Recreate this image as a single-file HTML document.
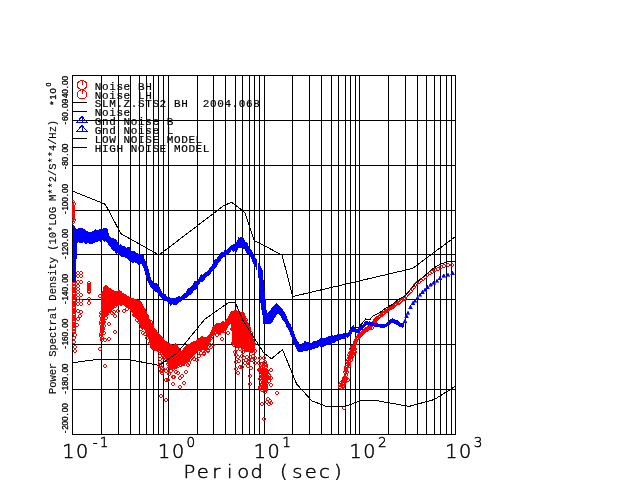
<!DOCTYPE html>
<html><head><meta charset="utf-8"><title>Power Spectral Density</title>
<style>html,body{margin:0;padding:0;background:#fff}svg{display:block}</style></head>
<body>
<svg width="640" height="480" viewBox="0 0 640 480">
<rect width="640" height="480" fill="#fff"/>
<path id="grid" d="M72.5 75.5V434.5M101.5 75.5V434.5M118.5 75.5V434.5M130.5 75.5V434.5M139.5 75.5V434.5M146.5 75.5V434.5M153.5 75.5V434.5M158.5 75.5V434.5M163.5 75.5V434.5M168.5 75.5V434.5M197.5 75.5V434.5M213.5 75.5V434.5M225.5 75.5V434.5M235.5 75.5V434.5M242.5 75.5V434.5M249.5 75.5V434.5M254.5 75.5V434.5M259.5 75.5V434.5M264.5 75.5V434.5M292.5 75.5V434.5M309.5 75.5V434.5M321.5 75.5V434.5M331.5 75.5V434.5M338.5 75.5V434.5M345.5 75.5V434.5M350.5 75.5V434.5M355.5 75.5V434.5M359.5 75.5V434.5M388.5 75.5V434.5M405.5 75.5V434.5M417.5 75.5V434.5M426.5 75.5V434.5M434.5 75.5V434.5M440.5 75.5V434.5M446.5 75.5V434.5M451.5 75.5V434.5M455.5 75.5V434.5M72 75.5H456M72 120.5H456M72 165.5H456M72 210.5H456M72 254.5H456M72 299.5H456M72 344.5H456M72 389.5H456M72 434.5H456" stroke="#000" stroke-width="1" fill="none" shape-rendering="crispEdges"/>
<clipPath id="cp"><rect x="72" y="75" width="384" height="360"/></clipPath>
<g clip-path="url(#cp)" shape-rendering="crispEdges">
<polygon points="100.5,292.6 102,291.5 103.5,289.2 105,285.8 106.5,284.6 108,286.1 109.5,288.3 111,288.6 112.5,290.3 114,290.8 115.5,292 117,291.7 118.5,290.3 120,290.6 121.5,291.3 123,293.1 124.5,293.8 126,293.8 127.5,296.1 129,296.4 130.5,297.6 132,298.7 133.5,298 135,299.1 136.5,299.9 138,300.9 139.5,300.3 141,301.6 142.5,303.9 144,307.8 145.5,310.9 147,314.1 148.5,317.2 150,320.7 151.5,322.8 153,324.6 154.5,328.4 156,331 157.5,332.1 159,333 160.5,334.8 162,336.1 163.5,338 165,340.8 166.5,340.9 168,342.8 169.5,344.3 171,344.1 172.5,344.5 174,344.9 175.5,343.2 177,344.2 178.5,347.2 180,349 181.5,351.2 183,350.9 184.5,347.8 186,345.9 187.5,344.6 189,344.1 190.5,342.7 192,341.8 193.5,341.4 195,341.4 196.5,340.5 198,338.6 199.5,337.6 201,336.4 202.5,336.6 204,336.5 205.5,337.3 207,337.1 208.5,335.1 210,333.2 211.5,330.7 213,328.7 214.5,324.8 216,324.4 217.5,323.4 219,322.8 220.5,323.1 222,321.5 223.5,321.3 225,322.1 226.5,319.2 228,317.6 229.5,314.3 231,312.1 232.5,311.2 234,310.7 235.5,310.1 237,310.5 238.5,311.9 240,311.9 241.5,312.2 243,310.9 244.5,314.1 246,318.2 247.5,322.4 249,325.8 250.5,328.7 252,334.8 253.5,339.3 255,343.6 255,352.3 253.5,352.1 252,353.1 250.5,352.8 249,352.9 247.5,351.7 246,352.4 244.5,349.7 243,348.7 241.5,348.1 240,348.6 238.5,347 237,347.4 235.5,346.1 234,345.3 232.5,344.2 231,323.5 229.5,323.8 228,327.6 226.5,327.7 225,331.1 223.5,332.1 222,332.1 220.5,335.1 219,335.5 217.5,332 216,331.6 214.5,333.9 213,334.6 211.5,338.3 210,341.4 208.5,345.1 207,349 205.5,349.6 204,350.5 202.5,349.6 201,351.3 199.5,350.4 198,350.8 196.5,351.4 195,352.6 193.5,353.6 192,356.1 190.5,356.8 189,360.1 187.5,363.1 186,363.3 184.5,365.7 183,365.9 181.5,365.6 180,365.2 178.5,366 177,367.6 175.5,367.6 174,368.2 172.5,371 171,368.7 169.5,367.6 168,365.7 166.5,361.5 165,357.3 163.5,353.5 162,353.4 160.5,350.8 159,350.8 157.5,350.8 156,349.9 154.5,351.3 153,349.9 151.5,349 150,345.1 148.5,337.5 147,334 145.5,330.8 144,329.6 142.5,328.3 141,326.4 139.5,325.2 138,321.1 136.5,318.9 135,317.8 133.5,314.5 132,312.3 130.5,308.8 129,308 127.5,306.7 126,305.3 124.5,304.3 123,304.7 121.5,304.9 120,305.2 118.5,304.4 117,305.7 115.5,306 114,308 112.5,310.5 111,309.9 109.5,312.7 108,312.4 106.5,314.7 105,316.1 103.5,316.7 102,315.6 100.5,314.6" fill="#f00"/>
<path d="M99.5 294.5h1l1 1v1l-1 1h-1l-1 -1v-1zM100.5 311.5h1l1 1v1l-1 1h-1l-1 -1v-1zM102.5 292.5h1l1 1v1l-1 1h-1l-1 -1v-1zM101.5 312.5h1l1 1v1l-1 1h-1l-1 -1v-1zM102.5 317.5h1l1 1v1l-1 1h-1l-1 -1v-1zM103.5 290.5h1l1 1v1l-1 1h-1l-1 -1v-1zM103.5 313.5h1l1 1v1l-1 1h-1l-1 -1v-1zM104.5 286.5h1l1 1v1l-1 1h-1l-1 -1v-1zM105.5 312.5h1l1 1v1l-1 1h-1l-1 -1v-1zM106.5 286.5h1l1 1v1l-1 1h-1l-1 -1v-1zM106.5 312.5h1l1 1v1l-1 1h-1l-1 -1v-1zM105.5 316.5h1l1 1v1l-1 1h-1l-1 -1v-1zM107.5 288.5h1l1 1v1l-1 1h-1l-1 -1v-1zM108.5 309.5h1l1 1v1l-1 1h-1l-1 -1v-1zM109.5 290.5h1l1 1v1l-1 1h-1l-1 -1v-1zM109.5 308.5h1l1 1v1l-1 1h-1l-1 -1v-1zM111.5 290.5h1l1 1v1l-1 1h-1l-1 -1v-1zM111.5 306.5h1l1 1v1l-1 1h-1l-1 -1v-1zM112.5 290.5h1l1 1v1l-1 1h-1l-1 -1v-1zM112.5 304.5h1l1 1v1l-1 1h-1l-1 -1v-1zM113.5 310.5h1l1 1v1l-1 1h-1l-1 -1v-1zM114.5 291.5h1l1 1v1l-1 1h-1l-1 -1v-1zM114.5 304.5h1l1 1v1l-1 1h-1l-1 -1v-1zM116.5 291.5h1l1 1v1l-1 1h-1l-1 -1v-1zM116.5 302.5h1l1 1v1l-1 1h-1l-1 -1v-1zM117.5 291.5h1l1 1v1l-1 1h-1l-1 -1v-1zM117.5 302.5h1l1 1v1l-1 1h-1l-1 -1v-1zM119.5 291.5h1l1 1v1l-1 1h-1l-1 -1v-1zM119.5 301.5h1l1 1v1l-1 1h-1l-1 -1v-1zM120.5 292.5h1l1 1v1l-1 1h-1l-1 -1v-1zM120.5 302.5h1l1 1v1l-1 1h-1l-1 -1v-1zM122.5 294.5h1l1 1v1l-1 1h-1l-1 -1v-1zM122.5 301.5h1l1 1v1l-1 1h-1l-1 -1v-1zM124.5 294.5h1l1 1v1l-1 1h-1l-1 -1v-1zM123.5 301.5h1l1 1v1l-1 1h-1l-1 -1v-1zM123.5 309.5h1l1 1v1l-1 1h-1l-1 -1v-1zM125.5 295.5h1l1 1v1l-1 1h-1l-1 -1v-1zM125.5 303.5h1l1 1v1l-1 1h-1l-1 -1v-1zM126.5 307.5h1l1 1v1l-1 1h-1l-1 -1v-1zM127.5 297.5h1l1 1v1l-1 1h-1l-1 -1v-1zM126.5 304.5h1l1 1v1l-1 1h-1l-1 -1v-1zM128.5 298.5h1l1 1v1l-1 1h-1l-1 -1v-1zM129.5 304.5h1l1 1v1l-1 1h-1l-1 -1v-1zM130.5 298.5h1l1 1v1l-1 1h-1l-1 -1v-1zM130.5 306.5h1l1 1v1l-1 1h-1l-1 -1v-1zM131.5 299.5h1l1 1v1l-1 1h-1l-1 -1v-1zM131.5 308.5h1l1 1v1l-1 1h-1l-1 -1v-1zM133.5 299.5h1l1 1v1l-1 1h-1l-1 -1v-1zM133.5 313.5h1l1 1v1l-1 1h-1l-1 -1v-1zM135.5 299.5h1l1 1v1l-1 1h-1l-1 -1v-1zM134.5 313.5h1l1 1v1l-1 1h-1l-1 -1v-1zM136.5 300.5h1l1 1v1l-1 1h-1l-1 -1v-1zM136.5 318.5h1l1 1v1l-1 1h-1l-1 -1v-1zM138.5 300.5h1l1 1v1l-1 1h-1l-1 -1v-1zM138.5 320.5h1l1 1v1l-1 1h-1l-1 -1v-1zM139.5 301.5h1l1 1v1l-1 1h-1l-1 -1v-1zM140.5 322.5h1l1 1v1l-1 1h-1l-1 -1v-1zM140.5 327.5h1l1 1v1l-1 1h-1l-1 -1v-1zM141.5 305.5h1l1 1v1l-1 1h-1l-1 -1v-1zM141.5 325.5h1l1 1v1l-1 1h-1l-1 -1v-1zM142.5 331.5h1l1 1v1l-1 1h-1l-1 -1v-1zM143.5 308.5h1l1 1v1l-1 1h-1l-1 -1v-1zM142.5 325.5h1l1 1v1l-1 1h-1l-1 -1v-1zM144.5 310.5h1l1 1v1l-1 1h-1l-1 -1v-1zM144.5 326.5h1l1 1v1l-1 1h-1l-1 -1v-1zM144.5 332.5h1l1 1v1l-1 1h-1l-1 -1v-1zM146.5 314.5h1l1 1v1l-1 1h-1l-1 -1v-1zM146.5 330.5h1l1 1v1l-1 1h-1l-1 -1v-1zM146.5 336.5h1l1 1v1l-1 1h-1l-1 -1v-1zM147.5 318.5h1l1 1v1l-1 1h-1l-1 -1v-1zM148.5 333.5h1l1 1v1l-1 1h-1l-1 -1v-1zM150.5 320.5h1l1 1v1l-1 1h-1l-1 -1v-1zM149.5 341.5h1l1 1v1l-1 1h-1l-1 -1v-1zM151.5 323.5h1l1 1v1l-1 1h-1l-1 -1v-1zM151.5 345.5h1l1 1v1l-1 1h-1l-1 -1v-1zM152.5 327.5h1l1 1v1l-1 1h-1l-1 -1v-1zM153.5 346.5h1l1 1v1l-1 1h-1l-1 -1v-1zM154.5 329.5h1l1 1v1l-1 1h-1l-1 -1v-1zM154.5 346.5h1l1 1v1l-1 1h-1l-1 -1v-1zM155.5 331.5h1l1 1v1l-1 1h-1l-1 -1v-1zM155.5 347.5h1l1 1v1l-1 1h-1l-1 -1v-1zM157.5 333.5h1l1 1v1l-1 1h-1l-1 -1v-1zM157.5 346.5h1l1 1v1l-1 1h-1l-1 -1v-1zM158.5 335.5h1l1 1v1l-1 1h-1l-1 -1v-1zM158.5 349.5h1l1 1v1l-1 1h-1l-1 -1v-1zM160.5 336.5h1l1 1v1l-1 1h-1l-1 -1v-1zM161.5 348.5h1l1 1v1l-1 1h-1l-1 -1v-1zM161.5 338.5h1l1 1v1l-1 1h-1l-1 -1v-1zM162.5 350.5h1l1 1v1l-1 1h-1l-1 -1v-1zM162.5 353.5h1l1 1v1l-1 1h-1l-1 -1v-1zM163.5 340.5h1l1 1v1l-1 1h-1l-1 -1v-1zM163.5 352.5h1l1 1v1l-1 1h-1l-1 -1v-1zM163.5 356.5h1l1 1v1l-1 1h-1l-1 -1v-1zM165.5 342.5h1l1 1v1l-1 1h-1l-1 -1v-1zM165.5 357.5h1l1 1v1l-1 1h-1l-1 -1v-1zM167.5 343.5h1l1 1v1l-1 1h-1l-1 -1v-1zM167.5 362.5h1l1 1v1l-1 1h-1l-1 -1v-1zM167.5 367.5h1l1 1v1l-1 1h-1l-1 -1v-1zM168.5 343.5h1l1 1v1l-1 1h-1l-1 -1v-1zM169.5 364.5h1l1 1v1l-1 1h-1l-1 -1v-1zM170.5 345.5h1l1 1v1l-1 1h-1l-1 -1v-1zM170.5 365.5h1l1 1v1l-1 1h-1l-1 -1v-1zM172.5 345.5h1l1 1v1l-1 1h-1l-1 -1v-1zM172.5 367.5h1l1 1v1l-1 1h-1l-1 -1v-1zM173.5 345.5h1l1 1v1l-1 1h-1l-1 -1v-1zM173.5 364.5h1l1 1v1l-1 1h-1l-1 -1v-1zM173.5 375.5h1l1 1v1l-1 1h-1l-1 -1v-1zM175.5 344.5h1l1 1v1l-1 1h-1l-1 -1v-1zM175.5 365.5h1l1 1v1l-1 1h-1l-1 -1v-1zM176.5 346.5h1l1 1v1l-1 1h-1l-1 -1v-1zM177.5 364.5h1l1 1v1l-1 1h-1l-1 -1v-1zM178.5 348.5h1l1 1v1l-1 1h-1l-1 -1v-1zM178.5 362.5h1l1 1v1l-1 1h-1l-1 -1v-1zM177.5 371.5h1l1 1v1l-1 1h-1l-1 -1v-1zM180.5 351.5h1l1 1v1l-1 1h-1l-1 -1v-1zM180.5 363.5h1l1 1v1l-1 1h-1l-1 -1v-1zM181.5 351.5h1l1 1v1l-1 1h-1l-1 -1v-1zM181.5 362.5h1l1 1v1l-1 1h-1l-1 -1v-1zM183.5 349.5h1l1 1v1l-1 1h-1l-1 -1v-1zM182.5 361.5h1l1 1v1l-1 1h-1l-1 -1v-1zM184.5 347.5h1l1 1v1l-1 1h-1l-1 -1v-1zM184.5 360.5h1l1 1v1l-1 1h-1l-1 -1v-1zM186.5 345.5h1l1 1v1l-1 1h-1l-1 -1v-1zM186.5 359.5h1l1 1v1l-1 1h-1l-1 -1v-1zM187.5 344.5h1l1 1v1l-1 1h-1l-1 -1v-1zM187.5 358.5h1l1 1v1l-1 1h-1l-1 -1v-1zM188.5 361.5h1l1 1v1l-1 1h-1l-1 -1v-1zM189.5 344.5h1l1 1v1l-1 1h-1l-1 -1v-1zM190.5 354.5h1l1 1v1l-1 1h-1l-1 -1v-1zM190.5 344.5h1l1 1v1l-1 1h-1l-1 -1v-1zM190.5 353.5h1l1 1v1l-1 1h-1l-1 -1v-1zM191.5 356.5h1l1 1v1l-1 1h-1l-1 -1v-1zM193.5 342.5h1l1 1v1l-1 1h-1l-1 -1v-1zM193.5 351.5h1l1 1v1l-1 1h-1l-1 -1v-1zM194.5 342.5h1l1 1v1l-1 1h-1l-1 -1v-1zM194.5 350.5h1l1 1v1l-1 1h-1l-1 -1v-1zM193.5 357.5h1l1 1v1l-1 1h-1l-1 -1v-1zM195.5 341.5h1l1 1v1l-1 1h-1l-1 -1v-1zM195.5 348.5h1l1 1v1l-1 1h-1l-1 -1v-1zM197.5 340.5h1l1 1v1l-1 1h-1l-1 -1v-1zM197.5 347.5h1l1 1v1l-1 1h-1l-1 -1v-1zM199.5 339.5h1l1 1v1l-1 1h-1l-1 -1v-1zM198.5 347.5h1l1 1v1l-1 1h-1l-1 -1v-1zM201.5 338.5h1l1 1v1l-1 1h-1l-1 -1v-1zM200.5 347.5h1l1 1v1l-1 1h-1l-1 -1v-1zM201.5 336.5h1l1 1v1l-1 1h-1l-1 -1v-1zM202.5 346.5h1l1 1v1l-1 1h-1l-1 -1v-1zM203.5 338.5h1l1 1v1l-1 1h-1l-1 -1v-1zM204.5 347.5h1l1 1v1l-1 1h-1l-1 -1v-1zM206.5 338.5h1l1 1v1l-1 1h-1l-1 -1v-1zM205.5 346.5h1l1 1v1l-1 1h-1l-1 -1v-1zM207.5 336.5h1l1 1v1l-1 1h-1l-1 -1v-1zM207.5 342.5h1l1 1v1l-1 1h-1l-1 -1v-1zM208.5 335.5h1l1 1v1l-1 1h-1l-1 -1v-1zM208.5 339.5h1l1 1v1l-1 1h-1l-1 -1v-1zM209.5 343.5h1l1 1v1l-1 1h-1l-1 -1v-1zM210.5 333.5h1l1 1v1l-1 1h-1l-1 -1v-1zM210.5 336.5h1l1 1v1l-1 1h-1l-1 -1v-1zM212.5 329.5h1l1 1v1l-1 1h-1l-1 -1v-1zM212.5 332.5h1l1 1v1l-1 1h-1l-1 -1v-1zM213.5 326.5h1l1 1v1l-1 1h-1l-1 -1v-1zM213.5 329.5h1l1 1v1l-1 1h-1l-1 -1v-1zM215.5 325.5h1l1 1v1l-1 1h-1l-1 -1v-1zM215.5 330.5h1l1 1v1l-1 1h-1l-1 -1v-1zM216.5 323.5h1l1 1v1l-1 1h-1l-1 -1v-1zM216.5 329.5h1l1 1v1l-1 1h-1l-1 -1v-1zM216.5 333.5h1l1 1v1l-1 1h-1l-1 -1v-1zM218.5 323.5h1l1 1v1l-1 1h-1l-1 -1v-1zM218.5 330.5h1l1 1v1l-1 1h-1l-1 -1v-1zM219.5 323.5h1l1 1v1l-1 1h-1l-1 -1v-1zM219.5 330.5h1l1 1v1l-1 1h-1l-1 -1v-1zM221.5 322.5h1l1 1v1l-1 1h-1l-1 -1v-1zM221.5 329.5h1l1 1v1l-1 1h-1l-1 -1v-1zM221.5 337.5h1l1 1v1l-1 1h-1l-1 -1v-1zM222.5 322.5h1l1 1v1l-1 1h-1l-1 -1v-1zM223.5 329.5h1l1 1v1l-1 1h-1l-1 -1v-1zM225.5 321.5h1l1 1v1l-1 1h-1l-1 -1v-1zM224.5 327.5h1l1 1v1l-1 1h-1l-1 -1v-1zM226.5 319.5h1l1 1v1l-1 1h-1l-1 -1v-1zM225.5 324.5h1l1 1v1l-1 1h-1l-1 -1v-1zM228.5 317.5h1l1 1v1l-1 1h-1l-1 -1v-1zM228.5 321.5h1l1 1v1l-1 1h-1l-1 -1v-1zM227.5 331.5h1l1 1v1l-1 1h-1l-1 -1v-1zM230.5 313.5h1l1 1v1l-1 1h-1l-1 -1v-1zM229.5 319.5h1l1 1v1l-1 1h-1l-1 -1v-1zM231.5 311.5h1l1 1v1l-1 1h-1l-1 -1v-1zM231.5 327.5h1l1 1v1l-1 1h-1l-1 -1v-1zM232.5 311.5h1l1 1v1l-1 1h-1l-1 -1v-1zM232.5 341.5h1l1 1v1l-1 1h-1l-1 -1v-1zM234.5 311.5h1l1 1v1l-1 1h-1l-1 -1v-1zM233.5 343.5h1l1 1v1l-1 1h-1l-1 -1v-1zM235.5 311.5h1l1 1v1l-1 1h-1l-1 -1v-1zM236.5 342.5h1l1 1v1l-1 1h-1l-1 -1v-1zM237.5 312.5h1l1 1v1l-1 1h-1l-1 -1v-1zM237.5 344.5h1l1 1v1l-1 1h-1l-1 -1v-1zM238.5 311.5h1l1 1v1l-1 1h-1l-1 -1v-1zM239.5 344.5h1l1 1v1l-1 1h-1l-1 -1v-1zM240.5 312.5h1l1 1v1l-1 1h-1l-1 -1v-1zM240.5 344.5h1l1 1v1l-1 1h-1l-1 -1v-1zM242.5 312.5h1l1 1v1l-1 1h-1l-1 -1v-1zM242.5 345.5h1l1 1v1l-1 1h-1l-1 -1v-1zM243.5 315.5h1l1 1v1l-1 1h-1l-1 -1v-1zM243.5 347.5h1l1 1v1l-1 1h-1l-1 -1v-1zM245.5 318.5h1l1 1v1l-1 1h-1l-1 -1v-1zM246.5 347.5h1l1 1v1l-1 1h-1l-1 -1v-1zM246.5 322.5h1l1 1v1l-1 1h-1l-1 -1v-1zM247.5 348.5h1l1 1v1l-1 1h-1l-1 -1v-1zM248.5 326.5h1l1 1v1l-1 1h-1l-1 -1v-1zM248.5 348.5h1l1 1v1l-1 1h-1l-1 -1v-1zM250.5 331.5h1l1 1v1l-1 1h-1l-1 -1v-1zM250.5 348.5h1l1 1v1l-1 1h-1l-1 -1v-1zM251.5 335.5h1l1 1v1l-1 1h-1l-1 -1v-1zM251.5 348.5h1l1 1v1l-1 1h-1l-1 -1v-1zM253.5 342.5h1l1 1v1l-1 1h-1l-1 -1v-1zM254.5 349.5h1l1 1v1l-1 1h-1l-1 -1v-1zM72.5 200.5h1l1 1v1l-1 1h-1l-1 -1v-1zM73.5 202.5h1l1 1v1l-1 1h-1l-1 -1v-1zM72.5 204.5h1l1 1v1l-1 1h-1l-1 -1v-1zM72.5 205.5h1l1 1v1l-1 1h-1l-1 -1v-1zM72.5 206.5h1l1 1v1l-1 1h-1l-1 -1v-1zM72.5 208.5h1l1 1v1l-1 1h-1l-1 -1v-1zM72.5 210.5h1l1 1v1l-1 1h-1l-1 -1v-1zM72.5 211.5h1l1 1v1l-1 1h-1l-1 -1v-1zM72.5 212.5h1l1 1v1l-1 1h-1l-1 -1v-1zM72.5 214.5h1l1 1v1l-1 1h-1l-1 -1v-1zM72.5 216.5h1l1 1v1l-1 1h-1l-1 -1v-1zM72.5 217.5h1l1 1v1l-1 1h-1l-1 -1v-1zM73.5 218.5h1l1 1v1l-1 1h-1l-1 -1v-1zM72.5 220.5h1l1 1v1l-1 1h-1l-1 -1v-1zM73.5 281.5h1l1 1v1l-1 1h-1l-1 -1v-1zM73.5 282.5h1l1 1v1l-1 1h-1l-1 -1v-1zM73.5 284.5h1l1 1v1l-1 1h-1l-1 -1v-1zM73.5 285.5h1l1 1v1l-1 1h-1l-1 -1v-1zM73.5 287.5h1l1 1v1l-1 1h-1l-1 -1v-1zM73.5 288.5h1l1 1v1l-1 1h-1l-1 -1v-1zM73.5 289.5h1l1 1v1l-1 1h-1l-1 -1v-1zM73.5 291.5h1l1 1v1l-1 1h-1l-1 -1v-1zM73.5 292.5h1l1 1v1l-1 1h-1l-1 -1v-1zM73.5 294.5h1l1 1v1l-1 1h-1l-1 -1v-1zM73.5 295.5h1l1 1v1l-1 1h-1l-1 -1v-1zM73.5 296.5h1l1 1v1l-1 1h-1l-1 -1v-1zM73.5 298.5h1l1 1v1l-1 1h-1l-1 -1v-1zM73.5 299.5h1l1 1v1l-1 1h-1l-1 -1v-1zM73.5 301.5h1l1 1v1l-1 1h-1l-1 -1v-1zM73.5 302.5h1l1 1v1l-1 1h-1l-1 -1v-1zM73.5 303.5h1l1 1v1l-1 1h-1l-1 -1v-1zM73.5 305.5h1l1 1v1l-1 1h-1l-1 -1v-1zM73.5 306.5h1l1 1v1l-1 1h-1l-1 -1v-1zM73.5 308.5h1l1 1v1l-1 1h-1l-1 -1v-1zM73.5 309.5h1l1 1v1l-1 1h-1l-1 -1v-1zM73.5 310.5h1l1 1v1l-1 1h-1l-1 -1v-1zM73.5 312.5h1l1 1v1l-1 1h-1l-1 -1v-1zM73.5 313.5h1l1 1v1l-1 1h-1l-1 -1v-1zM73.5 315.5h1l1 1v1l-1 1h-1l-1 -1v-1zM73.5 316.5h1l1 1v1l-1 1h-1l-1 -1v-1zM73.5 317.5h1l1 1v1l-1 1h-1l-1 -1v-1zM73.5 319.5h1l1 1v1l-1 1h-1l-1 -1v-1zM73.5 320.5h1l1 1v1l-1 1h-1l-1 -1v-1zM73.5 322.5h1l1 1v1l-1 1h-1l-1 -1v-1zM73.5 323.5h1l1 1v1l-1 1h-1l-1 -1v-1zM73.5 324.5h1l1 1v1l-1 1h-1l-1 -1v-1zM73.5 326.5h1l1 1v1l-1 1h-1l-1 -1v-1zM73.5 327.5h1l1 1v1l-1 1h-1l-1 -1v-1zM73.5 329.5h1l1 1v1l-1 1h-1l-1 -1v-1zM73.5 330.5h1l1 1v1l-1 1h-1l-1 -1v-1zM74.5 333.5h1l1 1v1l-1 1h-1l-1 -1v-1zM73.5 336.5h1l1 1v1l-1 1h-1l-1 -1v-1zM73.5 340.5h1l1 1v1l-1 1h-1l-1 -1v-1zM74.5 345.5h1l1 1v1l-1 1h-1l-1 -1v-1zM74.5 349.5h1l1 1v1l-1 1h-1l-1 -1v-1zM77.5 271.5h1l1 1v1l-1 1h-1l-1 -1v-1zM80.5 271.5h1l1 1v1l-1 1h-1l-1 -1v-1zM77.5 274.5h1l1 1v1l-1 1h-1l-1 -1v-1zM80.5 274.5h1l1 1v1l-1 1h-1l-1 -1v-1zM77.5 280.5h1l1 1v1l-1 1h-1l-1 -1v-1zM80.5 280.5h1l1 1v1l-1 1h-1l-1 -1v-1zM77.5 284.5h1l1 1v1l-1 1h-1l-1 -1v-1zM77.5 287.5h1l1 1v1l-1 1h-1l-1 -1v-1zM77.5 290.5h1l1 1v1l-1 1h-1l-1 -1v-1zM77.5 293.5h1l1 1v1l-1 1h-1l-1 -1v-1zM80.5 293.5h1l1 1v1l-1 1h-1l-1 -1v-1zM77.5 296.5h1l1 1v1l-1 1h-1l-1 -1v-1zM77.5 299.5h1l1 1v1l-1 1h-1l-1 -1v-1zM80.5 299.5h1l1 1v1l-1 1h-1l-1 -1v-1zM77.5 302.5h1l1 1v1l-1 1h-1l-1 -1v-1zM80.5 302.5h1l1 1v1l-1 1h-1l-1 -1v-1zM80.5 310.5h1l1 1v1l-1 1h-1l-1 -1v-1zM79.5 314.5h1l1 1v1l-1 1h-1l-1 -1v-1zM77.5 309.5h1l1 1v1l-1 1h-1l-1 -1v-1zM77.5 317.5h1l1 1v1l-1 1h-1l-1 -1v-1zM76.5 323.5h1l1 1v1l-1 1h-1l-1 -1v-1zM88.5 281.5h1l1 1v1l-1 1h-1l-1 -1v-1zM88.5 283.5h1l1 1v1l-1 1h-1l-1 -1v-1zM88.5 285.5h1l1 1v1l-1 1h-1l-1 -1v-1zM88.5 287.5h1l1 1v1l-1 1h-1l-1 -1v-1zM88.5 289.5h1l1 1v1l-1 1h-1l-1 -1v-1zM88.5 290.5h1l1 1v1l-1 1h-1l-1 -1v-1zM88.5 297.5h1l1 1v1l-1 1h-1l-1 -1v-1zM88.5 301.5h1l1 1v1l-1 1h-1l-1 -1v-1zM100.5 314.5h1l1 1v1l-1 1h-1l-1 -1v-1zM103.5 314.5h1l1 1v1l-1 1h-1l-1 -1v-1zM101.5 316.5h1l1 1v1l-1 1h-1l-1 -1v-1zM101.5 318.5h1l1 1v1l-1 1h-1l-1 -1v-1zM102.5 319.5h1l1 1v1l-1 1h-1l-1 -1v-1zM100.5 320.5h1l1 1v1l-1 1h-1l-1 -1v-1zM103.5 320.5h1l1 1v1l-1 1h-1l-1 -1v-1zM100.5 322.5h1l1 1v1l-1 1h-1l-1 -1v-1zM102.5 321.5h1l1 1v1l-1 1h-1l-1 -1v-1zM101.5 324.5h1l1 1v1l-1 1h-1l-1 -1v-1zM103.5 324.5h1l1 1v1l-1 1h-1l-1 -1v-1zM101.5 326.5h1l1 1v1l-1 1h-1l-1 -1v-1zM102.5 327.5h1l1 1v1l-1 1h-1l-1 -1v-1zM101.5 328.5h1l1 1v1l-1 1h-1l-1 -1v-1zM101.5 330.5h1l1 1v1l-1 1h-1l-1 -1v-1zM100.5 332.5h1l1 1v1l-1 1h-1l-1 -1v-1zM100.5 334.5h1l1 1v1l-1 1h-1l-1 -1v-1zM101.5 336.5h1l1 1v1l-1 1h-1l-1 -1v-1zM101.5 338.5h1l1 1v1l-1 1h-1l-1 -1v-1zM104.5 364.5h1l1 1v1l-1 1h-1l-1 -1v-1zM99.5 347.5h1l1 1v1l-1 1h-1l-1 -1v-1zM108.5 322.5h1l1 1v1l-1 1h-1l-1 -1v-1zM114.5 330.5h1l1 1v1l-1 1h-1l-1 -1v-1zM108.5 337.5h1l1 1v1l-1 1h-1l-1 -1v-1zM114.5 314.5h1l1 1v1l-1 1h-1l-1 -1v-1zM103.5 331.5h1l1 1v1l-1 1h-1l-1 -1v-1zM104.5 338.5h1l1 1v1l-1 1h-1l-1 -1v-1zM111.5 311.5h1l1 1v1l-1 1h-1l-1 -1v-1zM117.5 309.5h1l1 1v1l-1 1h-1l-1 -1v-1zM161.5 369.5h1l1 1v1l-1 1h-1l-1 -1v-1zM165.5 369.5h1l1 1v1l-1 1h-1l-1 -1v-1zM170.5 369.5h1l1 1v1l-1 1h-1l-1 -1v-1zM172.5 375.5h1l1 1v1l-1 1h-1l-1 -1v-1zM179.5 376.5h1l1 1v1l-1 1h-1l-1 -1v-1zM181.5 374.5h1l1 1v1l-1 1h-1l-1 -1v-1zM185.5 370.5h1l1 1v1l-1 1h-1l-1 -1v-1zM165.5 378.5h1l1 1v1l-1 1h-1l-1 -1v-1zM167.5 378.5h1l1 1v1l-1 1h-1l-1 -1v-1zM172.5 382.5h1l1 1v1l-1 1h-1l-1 -1v-1zM179.5 385.5h1l1 1v1l-1 1h-1l-1 -1v-1zM183.5 381.5h1l1 1v1l-1 1h-1l-1 -1v-1zM196.5 358.5h1l1 1v1l-1 1h-1l-1 -1v-1zM203.5 351.5h1l1 1v1l-1 1h-1l-1 -1v-1zM207.5 349.5h1l1 1v1l-1 1h-1l-1 -1v-1zM160.5 394.5h1l1 1v1l-1 1h-1l-1 -1v-1zM165.5 398.5h1l1 1v1l-1 1h-1l-1 -1v-1zM175.5 370.5h1l1 1v1l-1 1h-1l-1 -1v-1zM168.5 372.5h1l1 1v1l-1 1h-1l-1 -1v-1zM189.5 358.5h1l1 1v1l-1 1h-1l-1 -1v-1zM192.5 355.5h1l1 1v1l-1 1h-1l-1 -1v-1zM159.5 364.5h1l1 1v1l-1 1h-1l-1 -1v-1zM162.5 367.5h1l1 1v1l-1 1h-1l-1 -1v-1zM187.5 363.5h1l1 1v1l-1 1h-1l-1 -1v-1zM198.5 354.5h1l1 1v1l-1 1h-1l-1 -1v-1zM161.5 351.5h1l1 1v1l-1 1h-1l-1 -1v-1zM159.5 354.5h1l1 1v1l-1 1h-1l-1 -1v-1zM159.5 357.5h1l1 1v1l-1 1h-1l-1 -1v-1zM159.5 360.5h1l1 1v1l-1 1h-1l-1 -1v-1zM159.5 363.5h1l1 1v1l-1 1h-1l-1 -1v-1zM161.5 366.5h1l1 1v1l-1 1h-1l-1 -1v-1zM160.5 369.5h1l1 1v1l-1 1h-1l-1 -1v-1zM161.5 371.5h1l1 1v1l-1 1h-1l-1 -1v-1zM207.5 348.5h1l1 1v1l-1 1h-1l-1 -1v-1zM203.5 352.5h1l1 1v1l-1 1h-1l-1 -1v-1zM210.5 345.5h1l1 1v1l-1 1h-1l-1 -1v-1zM205.5 347.5h1l1 1v1l-1 1h-1l-1 -1v-1zM212.5 343.5h1l1 1v1l-1 1h-1l-1 -1v-1zM200.5 351.5h1l1 1v1l-1 1h-1l-1 -1v-1zM236.5 347.5h1l1 1v1l-1 1h-1l-1 -1v-1zM239.5 347.5h1l1 1v1l-1 1h-1l-1 -1v-1zM235.5 360.5h1l1 1v1l-1 1h-1l-1 -1v-1zM238.5 359.5h1l1 1v1l-1 1h-1l-1 -1v-1zM241.5 354.5h1l1 1v1l-1 1h-1l-1 -1v-1zM235.5 367.5h1l1 1v1l-1 1h-1l-1 -1v-1zM239.5 365.5h1l1 1v1l-1 1h-1l-1 -1v-1zM241.5 365.5h1l1 1v1l-1 1h-1l-1 -1v-1zM237.5 371.5h1l1 1v1l-1 1h-1l-1 -1v-1zM247.5 364.5h1l1 1v1l-1 1h-1l-1 -1v-1zM250.5 366.5h1l1 1v1l-1 1h-1l-1 -1v-1zM254.5 361.5h1l1 1v1l-1 1h-1l-1 -1v-1zM254.5 356.5h1l1 1v1l-1 1h-1l-1 -1v-1zM249.5 374.5h1l1 1v1l-1 1h-1l-1 -1v-1zM249.5 382.5h1l1 1v1l-1 1h-1l-1 -1v-1zM235.5 353.5h1l1 1v1l-1 1h-1l-1 -1v-1zM237.5 355.5h1l1 1v1l-1 1h-1l-1 -1v-1zM243.5 356.5h1l1 1v1l-1 1h-1l-1 -1v-1zM245.5 358.5h1l1 1v1l-1 1h-1l-1 -1v-1zM248.5 359.5h1l1 1v1l-1 1h-1l-1 -1v-1zM251.5 358.5h1l1 1v1l-1 1h-1l-1 -1v-1zM246.5 355.5h1l1 1v1l-1 1h-1l-1 -1v-1zM249.5 355.5h1l1 1v1l-1 1h-1l-1 -1v-1zM252.5 354.5h1l1 1v1l-1 1h-1l-1 -1v-1zM244.5 361.5h1l1 1v1l-1 1h-1l-1 -1v-1zM247.5 360.5h1l1 1v1l-1 1h-1l-1 -1v-1zM234.5 350.5h1l1 1v1l-1 1h-1l-1 -1v-1zM242.5 350.5h1l1 1v1l-1 1h-1l-1 -1v-1zM263.5 374.5h1l1 1v1l-1 1h-1l-1 -1v-1zM265.5 371.5h1l1 1v1l-1 1h-1l-1 -1v-1zM262.5 381.5h1l1 1v1l-1 1h-1l-1 -1v-1zM265.5 378.5h1l1 1v1l-1 1h-1l-1 -1v-1zM264.5 378.5h1l1 1v1l-1 1h-1l-1 -1v-1zM264.5 368.5h1l1 1v1l-1 1h-1l-1 -1v-1zM265.5 370.5h1l1 1v1l-1 1h-1l-1 -1v-1zM264.5 379.5h1l1 1v1l-1 1h-1l-1 -1v-1zM266.5 370.5h1l1 1v1l-1 1h-1l-1 -1v-1zM265.5 379.5h1l1 1v1l-1 1h-1l-1 -1v-1zM264.5 369.5h1l1 1v1l-1 1h-1l-1 -1v-1zM263.5 382.5h1l1 1v1l-1 1h-1l-1 -1v-1zM265.5 377.5h1l1 1v1l-1 1h-1l-1 -1v-1zM265.5 374.5h1l1 1v1l-1 1h-1l-1 -1v-1zM264.5 377.5h1l1 1v1l-1 1h-1l-1 -1v-1zM263.5 368.5h1l1 1v1l-1 1h-1l-1 -1v-1zM263.5 380.5h1l1 1v1l-1 1h-1l-1 -1v-1zM263.5 372.5h1l1 1v1l-1 1h-1l-1 -1v-1zM265.5 387.5h1l1 1v1l-1 1h-1l-1 -1v-1zM263.5 373.5h1l1 1v1l-1 1h-1l-1 -1v-1zM266.5 375.5h1l1 1v1l-1 1h-1l-1 -1v-1zM268.5 373.5h1l1 1v1l-1 1h-1l-1 -1v-1zM259.5 369.5h1l1 1v1l-1 1h-1l-1 -1v-1zM264.5 360.5h1l1 1v1l-1 1h-1l-1 -1v-1zM263.5 385.5h1l1 1v1l-1 1h-1l-1 -1v-1zM261.5 374.5h1l1 1v1l-1 1h-1l-1 -1v-1zM265.5 384.5h1l1 1v1l-1 1h-1l-1 -1v-1zM263.5 361.5h1l1 1v1l-1 1h-1l-1 -1v-1zM264.5 377.5h1l1 1v1l-1 1h-1l-1 -1v-1zM261.5 366.5h1l1 1v1l-1 1h-1l-1 -1v-1zM261.5 378.5h1l1 1v1l-1 1h-1l-1 -1v-1zM262.5 368.5h1l1 1v1l-1 1h-1l-1 -1v-1zM265.5 372.5h1l1 1v1l-1 1h-1l-1 -1v-1zM260.5 366.5h1l1 1v1l-1 1h-1l-1 -1v-1zM263.5 376.5h1l1 1v1l-1 1h-1l-1 -1v-1zM265.5 369.5h1l1 1v1l-1 1h-1l-1 -1v-1zM259.5 367.5h1l1 1v1l-1 1h-1l-1 -1v-1zM268.5 376.5h1l1 1v1l-1 1h-1l-1 -1v-1zM262.5 364.5h1l1 1v1l-1 1h-1l-1 -1v-1zM265.5 385.5h1l1 1v1l-1 1h-1l-1 -1v-1zM263.5 378.5h1l1 1v1l-1 1h-1l-1 -1v-1zM264.5 381.5h1l1 1v1l-1 1h-1l-1 -1v-1zM263.5 370.5h1l1 1v1l-1 1h-1l-1 -1v-1zM261.5 382.5h1l1 1v1l-1 1h-1l-1 -1v-1zM266.5 369.5h1l1 1v1l-1 1h-1l-1 -1v-1zM264.5 376.5h1l1 1v1l-1 1h-1l-1 -1v-1zM266.5 374.5h1l1 1v1l-1 1h-1l-1 -1v-1zM265.5 380.5h1l1 1v1l-1 1h-1l-1 -1v-1zM265.5 384.5h1l1 1v1l-1 1h-1l-1 -1v-1zM266.5 381.5h1l1 1v1l-1 1h-1l-1 -1v-1zM264.5 363.5h1l1 1v1l-1 1h-1l-1 -1v-1zM264.5 378.5h1l1 1v1l-1 1h-1l-1 -1v-1zM263.5 377.5h1l1 1v1l-1 1h-1l-1 -1v-1zM263.5 375.5h1l1 1v1l-1 1h-1l-1 -1v-1zM263.5 378.5h1l1 1v1l-1 1h-1l-1 -1v-1zM261.5 375.5h1l1 1v1l-1 1h-1l-1 -1v-1zM265.5 375.5h1l1 1v1l-1 1h-1l-1 -1v-1zM266.5 376.5h1l1 1v1l-1 1h-1l-1 -1v-1zM264.5 370.5h1l1 1v1l-1 1h-1l-1 -1v-1zM264.5 375.5h1l1 1v1l-1 1h-1l-1 -1v-1zM261.5 369.5h1l1 1v1l-1 1h-1l-1 -1v-1zM263.5 367.5h1l1 1v1l-1 1h-1l-1 -1v-1zM264.5 375.5h1l1 1v1l-1 1h-1l-1 -1v-1zM265.5 376.5h1l1 1v1l-1 1h-1l-1 -1v-1zM265.5 363.5h1l1 1v1l-1 1h-1l-1 -1v-1zM263.5 380.5h1l1 1v1l-1 1h-1l-1 -1v-1zM263.5 381.5h1l1 1v1l-1 1h-1l-1 -1v-1zM263.5 376.5h1l1 1v1l-1 1h-1l-1 -1v-1zM264.5 374.5h1l1 1v1l-1 1h-1l-1 -1v-1zM265.5 383.5h1l1 1v1l-1 1h-1l-1 -1v-1zM264.5 390.5h1l1 1v1l-1 1h-1l-1 -1v-1zM263.5 369.5h1l1 1v1l-1 1h-1l-1 -1v-1zM261.5 388.5h1l1 1v1l-1 1h-1l-1 -1v-1zM259.5 385.5h1l1 1v1l-1 1h-1l-1 -1v-1zM264.5 368.5h1l1 1v1l-1 1h-1l-1 -1v-1zM265.5 365.5h1l1 1v1l-1 1h-1l-1 -1v-1zM260.5 373.5h1l1 1v1l-1 1h-1l-1 -1v-1zM264.5 384.5h1l1 1v1l-1 1h-1l-1 -1v-1zM263.5 371.5h1l1 1v1l-1 1h-1l-1 -1v-1zM264.5 376.5h1l1 1v1l-1 1h-1l-1 -1v-1zM263.5 385.5h1l1 1v1l-1 1h-1l-1 -1v-1zM264.5 376.5h1l1 1v1l-1 1h-1l-1 -1v-1zM265.5 373.5h1l1 1v1l-1 1h-1l-1 -1v-1zM265.5 368.5h1l1 1v1l-1 1h-1l-1 -1v-1zM264.5 386.5h1l1 1v1l-1 1h-1l-1 -1v-1zM259.5 356.5h1l1 1v1l-1 1h-1l-1 -1v-1zM263.5 356.5h1l1 1v1l-1 1h-1l-1 -1v-1zM258.5 361.5h1l1 1v1l-1 1h-1l-1 -1v-1zM261.5 362.5h1l1 1v1l-1 1h-1l-1 -1v-1zM270.5 368.5h1l1 1v1l-1 1h-1l-1 -1v-1zM270.5 376.5h1l1 1v1l-1 1h-1l-1 -1v-1zM270.5 383.5h1l1 1v1l-1 1h-1l-1 -1v-1zM265.5 388.5h1l1 1v1l-1 1h-1l-1 -1v-1zM259.5 386.5h1l1 1v1l-1 1h-1l-1 -1v-1zM276.5 391.5h1l1 1v1l-1 1h-1l-1 -1v-1zM267.5 397.5h1l1 1v1l-1 1h-1l-1 -1v-1zM269.5 399.5h1l1 1v1l-1 1h-1l-1 -1v-1zM266.5 400.5h1l1 1v1l-1 1h-1l-1 -1v-1zM268.5 402.5h1l1 1v1l-1 1h-1l-1 -1v-1zM270.5 401.5h1l1 1v1l-1 1h-1l-1 -1v-1zM261.5 402.5h1l1 1v1l-1 1h-1l-1 -1v-1zM263.5 417.5h1l1 1v1l-1 1h-1l-1 -1v-1zM267.5 372.5h1l1 1v1l-1 1h-1l-1 -1v-1zM268.5 379.5h1l1 1v1l-1 1h-1l-1 -1v-1zM258.5 368.5h1l1 1v1l-1 1h-1l-1 -1v-1zM259.5 377.5h1l1 1v1l-1 1h-1l-1 -1v-1zM451.5 263.5h1l1 1v1l-1 1h-1l-1 -1v-1zM447.5 263.5h1l1 1v1l-1 1h-1l-1 -1v-1zM443.5 264.5h1l1 1v1l-1 1h-1l-1 -1v-1zM440.5 265.5h1l1 1v1l-1 1h-1l-1 -1v-1zM437.5 267.5h1l1 1v1l-1 1h-1l-1 -1v-1zM434.5 268.5h1l1 1v1l-1 1h-1l-1 -1v-1zM431.5 270.5h1l1 1v1l-1 1h-1l-1 -1v-1zM429.5 271.5h1l1 1v1l-1 1h-1l-1 -1v-1zM426.5 273.5h1l1 1v1l-1 1h-1l-1 -1v-1zM424.5 275.5h1l1 1v1l-1 1h-1l-1 -1v-1zM422.5 277.5h1l1 1v1l-1 1h-1l-1 -1v-1zM420.5 278.5h1l1 1v1l-1 1h-1l-1 -1v-1zM418.5 280.5h1l1 1v1l-1 1h-1l-1 -1v-1zM416.5 281.5h1l1 1v1l-1 1h-1l-1 -1v-1zM414.5 283.5h1l1 1v1l-1 1h-1l-1 -1v-1zM413.5 285.5h1l1 1v1l-1 1h-1l-1 -1v-1zM411.5 287.5h1l1 1v1l-1 1h-1l-1 -1v-1zM410.5 289.5h1l1 1v1l-1 1h-1l-1 -1v-1zM408.5 291.5h1l1 1v1l-1 1h-1l-1 -1v-1zM407.5 292.5h1l1 1v1l-1 1h-1l-1 -1v-1zM405.5 294.5h1l1 1v1l-1 1h-1l-1 -1v-1zM404.5 296.5h1l1 1v1l-1 1h-1l-1 -1v-1zM403.5 297.5h1l1 1v1l-1 1h-1l-1 -1v-1zM401.5 298.5h1l1 1v1l-1 1h-1l-1 -1v-1zM400.5 299.5h1l1 1v1l-1 1h-1l-1 -1v-1zM399.5 300.5h1l1 1v1l-1 1h-1l-1 -1v-1zM398.5 301.5h1l1 1v1l-1 1h-1l-1 -1v-1zM396.5 301.5h1l1 1v1l-1 1h-1l-1 -1v-1zM395.5 302.5h1l1 1v1l-1 1h-1l-1 -1v-1zM394.5 302.5h1l1 1v1l-1 1h-1l-1 -1v-1zM393.5 304.5h1l1 1v1l-1 1h-1l-1 -1v-1zM392.5 305.5h1l1 1v1l-1 1h-1l-1 -1v-1zM391.5 305.5h1l1 1v1l-1 1h-1l-1 -1v-1zM390.5 306.5h1l1 1v1l-1 1h-1l-1 -1v-1zM389.5 306.5h1l1 1v1l-1 1h-1l-1 -1v-1zM388.5 307.5h1l1 1v1l-1 1h-1l-1 -1v-1zM387.5 308.5h1l1 1v1l-1 1h-1l-1 -1v-1zM387.5 308.5h1l1 1v1l-1 1h-1l-1 -1v-1zM386.5 309.5h1l1 1v1l-1 1h-1l-1 -1v-1zM385.5 309.5h1l1 1v1l-1 1h-1l-1 -1v-1zM384.5 310.5h1l1 1v1l-1 1h-1l-1 -1v-1zM383.5 311.5h1l1 1v1l-1 1h-1l-1 -1v-1zM382.5 311.5h1l1 1v1l-1 1h-1l-1 -1v-1zM382.5 312.5h1l1 1v1l-1 1h-1l-1 -1v-1zM381.5 313.5h1l1 1v1l-1 1h-1l-1 -1v-1zM380.5 313.5h1l1 1v1l-1 1h-1l-1 -1v-1zM379.5 314.5h1l1 1v1l-1 1h-1l-1 -1v-1zM379.5 314.5h1l1 1v1l-1 1h-1l-1 -1v-1zM378.5 315.5h1l1 1v1l-1 1h-1l-1 -1v-1zM377.5 316.5h1l1 1v1l-1 1h-1l-1 -1v-1zM376.5 316.5h1l1 1v1l-1 1h-1l-1 -1v-1zM376.5 317.5h1l1 1v1l-1 1h-1l-1 -1v-1zM375.5 317.5h1l1 1v1l-1 1h-1l-1 -1v-1zM374.5 318.5h1l1 1v1l-1 1h-1l-1 -1v-1zM374.5 320.5h1l1 1v1l-1 1h-1l-1 -1v-1zM373.5 320.5h1l1 1v1l-1 1h-1l-1 -1v-1zM372.5 321.5h1l1 1v1l-1 1h-1l-1 -1v-1zM372.5 321.5h1l1 1v1l-1 1h-1l-1 -1v-1zM371.5 322.5h1l1 1v1l-1 1h-1l-1 -1v-1zM371.5 323.5h1l1 1v1l-1 1h-1l-1 -1v-1zM370.5 324.5h1l1 1v1l-1 1h-1l-1 -1v-1zM369.5 325.5h1l1 1v1l-1 1h-1l-1 -1v-1zM369.5 325.5h1l1 1v1l-1 1h-1l-1 -1v-1zM368.5 326.5h1l1 1v1l-1 1h-1l-1 -1v-1zM368.5 326.5h1l1 1v1l-1 1h-1l-1 -1v-1zM367.5 326.5h1l1 1v1l-1 1h-1l-1 -1v-1zM367.5 327.5h1l1 1v1l-1 1h-1l-1 -1v-1zM366.5 328.5h1l1 1v1l-1 1h-1l-1 -1v-1zM365.5 327.5h1l1 1v1l-1 1h-1l-1 -1v-1zM365.5 328.5h1l1 1v1l-1 1h-1l-1 -1v-1zM364.5 328.5h1l1 1v1l-1 1h-1l-1 -1v-1zM364.5 329.5h1l1 1v1l-1 1h-1l-1 -1v-1zM363.5 329.5h1l1 1v1l-1 1h-1l-1 -1v-1zM363.5 329.5h1l1 1v1l-1 1h-1l-1 -1v-1zM362.5 330.5h1l1 1v1l-1 1h-1l-1 -1v-1zM362.5 331.5h1l1 1v1l-1 1h-1l-1 -1v-1zM361.5 331.5h1l1 1v1l-1 1h-1l-1 -1v-1zM361.5 332.5h1l1 1v1l-1 1h-1l-1 -1v-1zM360.5 332.5h1l1 1v1l-1 1h-1l-1 -1v-1zM360.5 332.5h1l1 1v1l-1 1h-1l-1 -1v-1zM360.5 333.5h1l1 1v1l-1 1h-1l-1 -1v-1zM359.5 333.5h1l1 1v1l-1 1h-1l-1 -1v-1zM359.5 333.5h1l1 1v1l-1 1h-1l-1 -1v-1zM358.5 333.5h1l1 1v1l-1 1h-1l-1 -1v-1zM358.5 335.5h1l1 1v1l-1 1h-1l-1 -1v-1zM357.5 336.5h1l1 1v1l-1 1h-1l-1 -1v-1zM357.5 336.5h1l1 1v1l-1 1h-1l-1 -1v-1zM356.5 336.5h1l1 1v1l-1 1h-1l-1 -1v-1zM356.5 337.5h1l1 1v1l-1 1h-1l-1 -1v-1zM356.5 337.5h1l1 1v1l-1 1h-1l-1 -1v-1zM355.5 338.5h1l1 1v1l-1 1h-1l-1 -1v-1zM355.5 339.5h1l1 1v1l-1 1h-1l-1 -1v-1zM354.5 340.5h1l1 1v1l-1 1h-1l-1 -1v-1zM354.5 341.5h1l1 1v1l-1 1h-1l-1 -1v-1zM354.5 342.5h1l1 1v1l-1 1h-1l-1 -1v-1zM353.5 344.5h1l1 1v1l-1 1h-1l-1 -1v-1zM353.5 345.5h1l1 1v1l-1 1h-1l-1 -1v-1zM352.5 345.5h1l1 1v1l-1 1h-1l-1 -1v-1zM352.5 347.5h1l1 1v1l-1 1h-1l-1 -1v-1zM352.5 347.5h1l1 1v1l-1 1h-1l-1 -1v-1zM351.5 349.5h1l1 1v1l-1 1h-1l-1 -1v-1zM351.5 349.5h1l1 1v1l-1 1h-1l-1 -1v-1zM353.5 347.5h1l1 1v1l-1 1h-1l-1 -1v-1zM351.5 351.5h1l1 1v1l-1 1h-1l-1 -1v-1zM351.5 351.5h1l1 1v1l-1 1h-1l-1 -1v-1zM350.5 351.5h1l1 1v1l-1 1h-1l-1 -1v-1zM349.5 351.5h1l1 1v1l-1 1h-1l-1 -1v-1zM350.5 353.5h1l1 1v1l-1 1h-1l-1 -1v-1zM350.5 353.5h1l1 1v1l-1 1h-1l-1 -1v-1zM352.5 353.5h1l1 1v1l-1 1h-1l-1 -1v-1zM349.5 354.5h1l1 1v1l-1 1h-1l-1 -1v-1zM350.5 351.5h1l1 1v1l-1 1h-1l-1 -1v-1zM348.5 353.5h1l1 1v1l-1 1h-1l-1 -1v-1zM351.5 355.5h1l1 1v1l-1 1h-1l-1 -1v-1zM349.5 355.5h1l1 1v1l-1 1h-1l-1 -1v-1zM350.5 355.5h1l1 1v1l-1 1h-1l-1 -1v-1zM349.5 356.5h1l1 1v1l-1 1h-1l-1 -1v-1zM350.5 358.5h1l1 1v1l-1 1h-1l-1 -1v-1zM347.5 358.5h1l1 1v1l-1 1h-1l-1 -1v-1zM348.5 356.5h1l1 1v1l-1 1h-1l-1 -1v-1zM348.5 359.5h1l1 1v1l-1 1h-1l-1 -1v-1zM346.5 360.5h1l1 1v1l-1 1h-1l-1 -1v-1zM348.5 360.5h1l1 1v1l-1 1h-1l-1 -1v-1zM347.5 361.5h1l1 1v1l-1 1h-1l-1 -1v-1zM348.5 362.5h1l1 1v1l-1 1h-1l-1 -1v-1zM346.5 365.5h1l1 1v1l-1 1h-1l-1 -1v-1zM348.5 364.5h1l1 1v1l-1 1h-1l-1 -1v-1zM345.5 365.5h1l1 1v1l-1 1h-1l-1 -1v-1zM344.5 370.5h1l1 1v1l-1 1h-1l-1 -1v-1zM345.5 367.5h1l1 1v1l-1 1h-1l-1 -1v-1zM346.5 370.5h1l1 1v1l-1 1h-1l-1 -1v-1zM345.5 369.5h1l1 1v1l-1 1h-1l-1 -1v-1zM345.5 373.5h1l1 1v1l-1 1h-1l-1 -1v-1zM345.5 373.5h1l1 1v1l-1 1h-1l-1 -1v-1zM345.5 376.5h1l1 1v1l-1 1h-1l-1 -1v-1zM345.5 377.5h1l1 1v1l-1 1h-1l-1 -1v-1zM347.5 378.5h1l1 1v1l-1 1h-1l-1 -1v-1zM345.5 376.5h1l1 1v1l-1 1h-1l-1 -1v-1zM344.5 375.5h1l1 1v1l-1 1h-1l-1 -1v-1zM344.5 378.5h1l1 1v1l-1 1h-1l-1 -1v-1zM344.5 378.5h1l1 1v1l-1 1h-1l-1 -1v-1zM343.5 376.5h1l1 1v1l-1 1h-1l-1 -1v-1zM343.5 378.5h1l1 1v1l-1 1h-1l-1 -1v-1zM344.5 377.5h1l1 1v1l-1 1h-1l-1 -1v-1zM342.5 379.5h1l1 1v1l-1 1h-1l-1 -1v-1zM342.5 379.5h1l1 1v1l-1 1h-1l-1 -1v-1zM342.5 382.5h1l1 1v1l-1 1h-1l-1 -1v-1zM340.5 381.5h1l1 1v1l-1 1h-1l-1 -1v-1zM344.5 380.5h1l1 1v1l-1 1h-1l-1 -1v-1zM342.5 382.5h1l1 1v1l-1 1h-1l-1 -1v-1zM344.5 380.5h1l1 1v1l-1 1h-1l-1 -1v-1zM342.5 381.5h1l1 1v1l-1 1h-1l-1 -1v-1zM341.5 383.5h1l1 1v1l-1 1h-1l-1 -1v-1zM342.5 381.5h1l1 1v1l-1 1h-1l-1 -1v-1zM342.5 384.5h1l1 1v1l-1 1h-1l-1 -1v-1zM339.5 383.5h1l1 1v1l-1 1h-1l-1 -1v-1zM343.5 382.5h1l1 1v1l-1 1h-1l-1 -1v-1zM341.5 383.5h1l1 1v1l-1 1h-1l-1 -1v-1zM342.5 384.5h1l1 1v1l-1 1h-1l-1 -1v-1zM339.5 385.5h1l1 1v1l-1 1h-1l-1 -1v-1zM342.5 385.5h1l1 1v1l-1 1h-1l-1 -1v-1zM343.5 406.5h1l1 1v1l-1 1h-1l-1 -1v-1zM351.5 348.5h1l1 1v1l-1 1h-1l-1 -1v-1zM353.5 347.5h1l1 1v1l-1 1h-1l-1 -1v-1zM351.5 350.5h1l1 1v1l-1 1h-1l-1 -1v-1zM353.5 349.5h1l1 1v1l-1 1h-1l-1 -1v-1zM352.5 346.5h1l1 1v1l-1 1h-1l-1 -1v-1zM350.5 347.5h1l1 1v1l-1 1h-1l-1 -1v-1zM354.5 347.5h1l1 1v1l-1 1h-1l-1 -1v-1zM351.5 345.5h1l1 1v1l-1 1h-1l-1 -1v-1zM353.5 345.5h1l1 1v1l-1 1h-1l-1 -1v-1zM351.5 350.5h1l1 1v1l-1 1h-1l-1 -1v-1zM354.5 350.5h1l1 1v1l-1 1h-1l-1 -1v-1zM352.5 351.5h1l1 1v1l-1 1h-1l-1 -1v-1zM370.5 324.5h1l1 1v1l-1 1h-1l-1 -1v-1zM369.5 326.5h1l1 1v1l-1 1h-1l-1 -1v-1zM371.5 323.5h1l1 1v1l-1 1h-1l-1 -1v-1zM371.5 326.5h1l1 1v1l-1 1h-1l-1 -1v-1zM369.5 324.5h1l1 1v1l-1 1h-1l-1 -1v-1z" stroke="#f00" stroke-width="1" fill="none"/>
<polygon points="77,229.6 78.7,227.8 80.4,227.7 82.1,227.9 83.8,228.8 85.5,230.2 87.2,231.2 88.9,232.7 90.6,231.5 92.3,231.6 94,230.6 95.7,229.2 97.4,230.3 99.1,229.7 100.8,228.5 102.5,228.5 104.2,227.9 105.9,227.7 107.6,229 109.3,236 111,237.2 112.7,238.4 114.4,238.6 116.1,239.8 117.8,242.7 119.5,244.7 121.2,244.2 122.9,246.4 124.6,246.4 126.3,247.7 128,247.2 129.7,247.4 131.4,250.5 133.1,250.7 134.8,251.6 136.5,252.7 138.2,253.8 139.9,253.6 141.6,255 143.3,254.7 145,260.5 146.7,263.8 148.4,268.3 150.1,275.9 151.8,280.7 153.5,281.6 155.2,283.4 156.9,282.6 158.6,286 160.3,288.7 162,292.6 163.7,293.6 165.4,293.8 167.1,296.7 168.8,296.8 170.5,298 172.2,297.7 173.9,297.8 175.6,297.7 177.3,297 179,296.1 180.7,296.6 182.4,294.6 184.1,293.7 185.8,292.9 187.5,288.8 189.2,288.2 190.9,286.3 192.6,284.7 194.3,281.1 196,281.1 197.7,279.6 199.4,277.6 201.1,274.2 202.8,274.6 204.5,273 206.2,271.6 207.9,271.2 209.6,268.2 211.3,266.6 213,262.9 214.7,260.2 216.4,258.7 218.1,256.4 219.8,254.3 221.5,252.1 223.2,252.1 224.9,249.8 226.6,249.6 228.3,248.7 230,246 231.7,245.4 233.4,244.1 235.1,243.4 236.8,242.1 238.5,237.4 240.2,237.6 241.9,236.5 243.6,237.9 245.3,241.6 247,242 248.7,246 250.4,248.6 252.1,251.4 253.8,254.7 255.5,257.7 257.2,260.7 257.2,272.8 255.5,266.8 253.8,264.4 252.1,260.7 250.4,257.2 248.7,253.7 247,253.6 245.3,250.1 243.6,248.6 241.9,247.3 240.2,248.4 238.5,248.4 236.8,251.7 235.1,250.7 233.4,251.7 231.7,249.6 230,253.2 228.3,253.9 226.6,254.8 224.9,256.2 223.2,257.8 221.5,258.9 219.8,262 218.1,263.8 216.4,266.9 214.7,268.9 213,270.4 211.3,272.3 209.6,275.1 207.9,275.8 206.2,277.4 204.5,279.9 202.8,281.9 201.1,281.4 199.4,283.9 197.7,286.5 196,290.2 194.3,290.2 192.6,292.6 190.9,294.8 189.2,295.3 187.5,297 185.8,298.2 184.1,298.7 182.4,300.6 180.7,301.4 179,302.8 177.3,304.7 175.6,304.6 173.9,305.4 172.2,304.3 170.5,305.8 168.8,303.1 167.1,301.5 165.4,301.4 163.7,301.2 162,297.9 160.3,297 158.6,294.8 156.9,292.3 155.2,291.6 153.5,290.8 151.8,287.9 150.1,286.7 148.4,282.7 146.7,278.8 145,273.1 143.3,266.8 141.6,264.4 139.9,264.3 138.2,264.8 136.5,263.2 134.8,262.1 133.1,262.7 131.4,262.2 129.7,260.7 128,259.6 126.3,257.9 124.6,257.1 122.9,257.4 121.2,257.1 119.5,253.8 117.8,252.7 116.1,254 114.4,251.2 112.7,250.3 111,248.2 109.3,245.5 107.6,243.4 105.9,240.9 104.2,242.1 102.5,240.1 100.8,241.8 99.1,240.6 97.4,242.6 95.7,241.9 94,242.9 92.3,244.3 90.6,244.1 88.9,243.2 87.2,243.2 85.5,244.2 83.8,242.1 82.1,243.5 80.4,243.2 78.7,242.3 77,243.4" fill="#00f"/>
<polygon points="72.5,224 74,225 75.5,228 77,229 77.5,250 76.6,258 75.8,264 75.8,282 72.5,282" fill="#00f"/>
<polygon points="258,262 262.5,270 263.5,280 264.5,290 265.6,300 266.5,310 267,314 271,309 276,303 280,307 280,315 278,313 275.5,317 270.6,324.4 263,324.4 262.5,315 261.5,310 260,300 259.5,290 258.75,280 258,274" fill="#00f"/>
<polygon points="276,303.4 277.2,304.9 278.5,305.1 279.8,306.2 281,307.4 282.2,308.9 283.5,310.8 284.8,312.8 286,315.3 287.2,317.8 288.5,321.1 289.8,323.3 291,325.3 292.2,328.7 293.5,331.4 294.8,335 296,338.1 297.2,340.4 298.5,341.9 299.8,344.8 301,344.8 302.2,343.2 303.5,342.6 304.8,341.1 306,341.5 307.2,341.6 308.5,342.2 309.8,342.5 311,343.4 312.2,342.6 313.5,341.3 314.8,341.2 316,341.1 317.2,340.5 318.5,339.7 319.8,338.8 321,338.2 322.2,338.5 323.5,338.4 324.8,337.8 326,337.4 327.2,337 328.5,336 329.8,336 331,335.2 332.2,334.8 333.5,336 334.8,334.8 336,335.3 337.2,334.2 338.5,334.2 339.8,333.9 341,334.6 342.2,333.8 343.5,332.9 344.8,333.5 346,333.1 347.2,332.9 348.5,332.4 349.8,329.9 351,327.7 352.2,326.1 353.5,325.2 354.8,327.2 356,328.6 357.2,329.4 358.5,327.3 359.8,326.6 361,325.4 362.2,325.1 363.5,323.7 364.8,320.9 366,320.3 367.2,321.2 368.5,321.7 369.8,320.7 371,322.2 372.2,321.6 373.5,322.9 374.8,323.3 376,322.3 377.2,323.2 378.5,323.5 379.8,323.9 381,323.7 382.2,323.4 383.5,324 384.8,324 386,323.2 387.2,322.9 388.5,321.2 389.8,319.5 391,319.2 392.2,317.9 393.5,318.9 394.8,319.4 396,320.5 397.2,320.3 398.5,321.1 399.8,322.4 401,323.6 402.2,323.3 403.5,323.2 403.5,327.2 402.2,327.8 401,326.8 399.8,327.2 398.5,325.8 397.2,324.4 396,324.9 394.8,323.8 393.5,322.6 392.2,322.6 391,323.3 389.8,324.5 388.5,324.7 387.2,326.6 386,326.8 384.8,327.6 383.5,328.2 382.2,327.3 381,327.7 379.8,327.3 378.5,326.9 377.2,327.4 376,327.3 374.8,327.1 373.5,326.2 372.2,326.1 371,326.5 369.8,325 368.5,325.8 367.2,324.9 366,324.9 364.8,326.8 363.5,328.5 362.2,330 361,330.2 359.8,332.4 358.5,333.5 357.2,333.3 356,332.8 354.8,332.5 353.5,331.9 352.2,332.6 351,334.5 349.8,335.3 348.5,337.4 347.2,337.7 346,337.2 344.8,339.1 343.5,339.3 342.2,338.5 341,339 339.8,340.3 338.5,340.3 337.2,340.8 336,341.7 334.8,342.6 333.5,342.8 332.2,343.5 331,343.1 329.8,344.5 328.5,344.7 327.2,345.1 326,345.5 324.8,345.8 323.5,346.6 322.2,346.6 321,347.4 319.8,346.3 318.5,346.7 317.2,348.4 316,347.5 314.8,348.8 313.5,348.6 312.2,349.1 311,349.9 309.8,350.1 308.5,350.3 307.2,351.1 306,351.3 304.8,351 303.5,351 302.2,351.9 301,352 299.8,352.1 298.5,351.9 297.2,351.2 296,348.2 294.8,345.5 293.5,343.7 292.2,339.2 291,336.1 289.8,332.8 288.5,329.7 287.2,328.1 286,325.6 284.8,322.8 283.5,321.4 282.2,319 281,316.7 279.8,314.8 278.5,313.6 277.2,313.4 276,312.4" fill="#00f"/>
<path d="M405 319.2l1.8 3.6h-3.6zM406.5 314.2l1.8 3.6h-3.6zM408 310.7l1.8 3.6h-3.6zM410.6 305.2l1.8 3.6h-3.6zM413 301.2l1.8 3.6h-3.6zM415 298.8l1.8 3.6h-3.6zM417.5 295.7l1.8 3.6h-3.6zM420 292.6l1.8 3.6h-3.6zM422.5 290.2l1.8 3.6h-3.6zM425 287.6l1.8 3.6h-3.6zM427.5 285.2l1.8 3.6h-3.6zM430.6 282.6l1.8 3.6h-3.6zM433.8 280.7l1.8 3.6h-3.6zM437 278.8l1.8 3.6h-3.6zM440 276.2l1.8 3.6h-3.6zM443.8 273.8l1.8 3.6h-3.6zM448 272.6l1.8 3.6h-3.6zM452.5 271.2l1.8 3.6h-3.6z" fill="#00f" stroke="#00f" stroke-width="0.6"/>
<polyline points="72.5,191.1 105.3,204.3 120.9,233.7 159,255 223.8,205.6 231.7,202.3 244.8,212.4 254.2,240.4 282,255 292.8,296.5 412.4,268.5 455.5,236.5" stroke="#000" stroke-width="1" fill="none"/>
<polyline points="72.5,362.7 94.6,359.8 130.1,359.8 159,365.4 177.2,353 204.7,319.3 228.9,302.3 235.2,302.3 242.8,320.1 264,353.2 271.6,358.8 282.5,349.5 296.6,384 311.8,400.8 326.5,406.5 344.9,406.5 360.2,400.8 377.7,400.8 409.1,406.4 434.3,399.5 455.5,386.2" stroke="#000" stroke-width="1" fill="none"/>
<polyline points="356,328 359,327 365.6,319 370,319.4 373,316 380,312.5 386,308 392.5,304.4 397.5,300 405,296 416,283 425,275.5 433,268.5 441,263.8 447,262 455.5,261" stroke="#000" stroke-width="1" fill="none"/>
</g>
<g fill="none" stroke-width="1" shape-rendering="crispEdges">
<path d="M82 80.5a5 4.5 0 1 0 .01 0zM82 80.5v4.5M82 89.8a5 4.5 0 1 0 .01 0zM82 89.8v4.5" stroke="#f00"/>
<path d="M73 102.5H87M73 111.5H87M73 138.5H87M73 147.5H87" stroke="#000" shape-rendering="crispEdges"/>
<path d="M82 116.5l5 5.5h-10zM82 116.5v5.5M82 125.5l5 5.5h-10zM82 125.5v5.5" stroke="#00f"/>
</g>
<g fill="#000" stroke="#000" stroke-width="0.3" text-anchor="middle">
<text font-family="'Liberation Mono',monospace" x="98.1 105.3 112.5 119.7 126.9 134.1 141.3 148.5" y="89.7" font-size="11" stroke-width="0.2" xml:space="preserve">Noise BH</text>
<text font-family="'Liberation Mono',monospace" x="98.1 105.3 112.5 119.7 126.9 134.1 141.3 148.5" y="98.5" font-size="11" stroke-width="0.2" xml:space="preserve">Noise LH</text>
<text font-family="'Liberation Mono',monospace" x="98.1 105.3 112.5 119.7 126.9 134.1 141.3 148.5 155.7 162.9 170.1 177.3 184.5 191.7 198.9 206.1 213.3 220.5 227.7 234.9 242.1 249.3 256.5" y="107.4" font-size="11" stroke-width="0.2" xml:space="preserve">SLM.Z.STS2 BH  2004.068</text>
<text font-family="'Liberation Mono',monospace" x="98.1 105.3 112.5 119.7 126.9" y="116.2" font-size="11" stroke-width="0.2" xml:space="preserve">Noise</text>
<text font-family="'Liberation Mono',monospace" x="98.1 105.3 112.5 119.7 126.9 134.1 141.3 148.5 155.7 162.9 170.1" y="125.1" font-size="11" stroke-width="0.2" xml:space="preserve">Gnd Noise B</text>
<text font-family="'Liberation Mono',monospace" x="98.1 105.3 112.5 119.7 126.9 134.1 141.3 148.5 155.7 162.9 170.1" y="133.9" font-size="11" stroke-width="0.2" xml:space="preserve">Gnd Noise L</text>
<text font-family="'Liberation Mono',monospace" x="98.1 105.3 112.5 119.7 126.9 134.1 141.3 148.5 155.7 162.9 170.1 177.3 184.5 191.7 198.9" y="142.7" font-size="11" stroke-width="0.2" xml:space="preserve">LOW NOISE MODEL</text>
<text font-family="'Liberation Mono',monospace" x="98.1 105.3 112.5 119.7 126.9 134.1 141.3 148.5 155.7 162.9 170.1 177.3 184.5 191.7 198.9 206.1" y="151.6" font-size="11" stroke-width="0.2" xml:space="preserve">HIGH NOISE MODEL</text>
<text font-family="'DejaVu Sans Light','Liberation Sans',sans-serif" x="68.3 82.2" y="458" font-size="19.2" stroke-width="0.5">10</text>
<text font-family="'DejaVu Sans Light','Liberation Sans',sans-serif" x="95.1 104" y="447" font-size="13.6" stroke-width="0.45">-1</text>
<text font-family="'DejaVu Sans Light','Liberation Sans',sans-serif" x="164.1 178" y="458" font-size="19.2" stroke-width="0.5">10</text>
<text font-family="'DejaVu Sans Light','Liberation Sans',sans-serif" x="190.8" y="447" font-size="13.6" stroke-width="0.45">0</text>
<text font-family="'DejaVu Sans Light','Liberation Sans',sans-serif" x="259.8 273.7" y="458" font-size="19.2" stroke-width="0.5">10</text>
<text font-family="'DejaVu Sans Light','Liberation Sans',sans-serif" x="286.6" y="447" font-size="13.6" stroke-width="0.45">1</text>
<text font-family="'DejaVu Sans Light','Liberation Sans',sans-serif" x="355.6 369.4" y="458" font-size="19.2" stroke-width="0.5">10</text>
<text font-family="'DejaVu Sans Light','Liberation Sans',sans-serif" x="382.4" y="447" font-size="13.6" stroke-width="0.45">2</text>
<text font-family="'DejaVu Sans Light','Liberation Sans',sans-serif" x="451.3 465.2" y="458" font-size="19.2" stroke-width="0.5">10</text>
<text font-family="'DejaVu Sans Light','Liberation Sans',sans-serif" x="478.1" y="447" font-size="13.6" stroke-width="0.45">3</text>
<text font-family="'DejaVu Sans Light','Liberation Sans',sans-serif" transform="scale(1.15 1)" x="164.6 176.3 188.1 199.8 211.6 223.3 235 246.8 258.5 270.3 282 293.7" y="478.5" font-size="17" stroke-width="0.45" xml:space="preserve">Period (sec)</text>
<text font-family="'Liberation Mono',monospace" transform="translate(55.6 394) rotate(-90)" x="3.1 9.3 15.6 21.8 28 34.2 40.5 46.7 52.9 59.2 65.4 71.6 77.9 84.1 90.3 96.5 102.8 109 115.2 121.5 127.7 133.9 140.2 146.4 152.6 158.8 165.1 171.3 177.5 183.8 190 196.2 202.5 208.7 214.9 221.2 227.4 233.6 239.8 246.1 252.3 258.5 264.8 271" y="0" font-size="10.5" stroke-width="0.12" xml:space="preserve">Power Spectral Density (10*LOG M**2/S**4/Hz)</text>
<text font-family="'Liberation Sans',sans-serif" transform="translate(56 106.3) rotate(-90)" x="3.1 9.3 15.5" y="0" font-size="9.6">*10</text>
<text font-family="'Liberation Sans',sans-serif" transform="translate(50.6 86.5) rotate(-90)" x="2" y="0" font-size="7">0</text>
<text font-family="'Liberation Sans',sans-serif" transform="translate(68 102.3) rotate(-90)" x="2.1 6.5 10.9 15.3 19.7 24.1" y="0" font-size="8.2">-40.00</text>
<text font-family="'Liberation Sans',sans-serif" transform="translate(68 125.3) rotate(-90)" x="2.1 6.5 10.9 15.3 19.7 24.1" y="0" font-size="8.2">-60.00</text>
<text font-family="'Liberation Sans',sans-serif" transform="translate(68 170) rotate(-90)" x="2.1 6.5 10.9 15.3 19.7 24.1" y="0" font-size="8.2">-80.00</text>
<text font-family="'Liberation Sans',sans-serif" transform="translate(68 214.8) rotate(-90)" x="2.1 6.5 10.9 15.3 19.7 24.1 28.5" y="0" font-size="8.2">-100.00</text>
<text font-family="'Liberation Sans',sans-serif" transform="translate(68 259.8) rotate(-90)" x="2.1 6.5 10.9 15.3 19.7 24.1 28.5" y="0" font-size="8.2">-120.00</text>
<text font-family="'Liberation Sans',sans-serif" transform="translate(68 304.6) rotate(-90)" x="2.1 6.5 10.9 15.3 19.7 24.1 28.5" y="0" font-size="8.2">-140.00</text>
<text font-family="'Liberation Sans',sans-serif" transform="translate(68 349.5) rotate(-90)" x="2.1 6.5 10.9 15.3 19.7 24.1 28.5" y="0" font-size="8.2">-160.00</text>
<text font-family="'Liberation Sans',sans-serif" transform="translate(68 394.4) rotate(-90)" x="2.1 6.5 10.9 15.3 19.7 24.1 28.5" y="0" font-size="8.2">-180.00</text>
<text font-family="'Liberation Sans',sans-serif" transform="translate(68 434) rotate(-90)" x="2.1 6.5 10.9 15.3 19.7 24.1 28.5" y="0" font-size="8.2">-200.00</text>
</g>
</svg>
</body></html>
